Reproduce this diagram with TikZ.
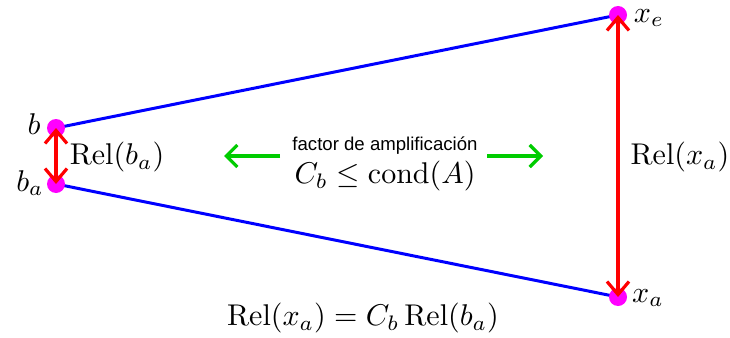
\documentclass[tikz,border=0pt]{standalone}
\usepackage{fontspec}
\usepackage{amsmath}
\usepackage{graphicx}
\newfontfamily\helv{Liberation Sans}
\usetikzlibrary{arrows.meta}
\definecolor{mag}{RGB}{255,0,255}
\definecolor{gr}{RGB}{0,204,0}
\definecolor{bl}{RGB}{0,0,255}
\definecolor{rd}{RGB}{255,0,0}
\newcommand{\szm}[1]{\scalebox{3.0}{$#1$}}
\begin{document}
\begin{tikzpicture}[x=1pt,y=-1pt,
  dot/.style={circle,fill=mag,inner sep=0pt,minimum size=18pt},
  blueline/.style={draw=bl,line width=3pt},
  redarrow/.style={draw=rd,line width=3.2pt,{Straight Barb[length=13pt,width=22pt]}-{Straight Barb[length=13pt,width=22pt]}},
  greenarrow/.style={draw=gr,line width=3.2pt,-{Straight Barb[length=11pt,width=22pt]}},
  lbl/.style={inner sep=0pt}
]
\useasboundingbox (0,0) rectangle (730,337);
\coordinate (cb) at (56,128);
\coordinate (cba) at (56,184);
\coordinate (cxe) at (618,15);
\coordinate (cxa) at (618,297);
\draw[blueline] (cb) -- (cxe);
\draw[blueline] (cba) -- (cxa);
\node[dot] (b) at (cb) {};
\node[dot] (ba) at (cba) {};
\node[dot] (xe) at (cxe) {};
\node[dot] (xa) at (cxa) {};
\draw[redarrow] (b.center) -- (ba.center);
\draw[redarrow] (xa.center) -- (xe.center);
\node[lbl] (lb) at (34,124) {\szm{b}};
\node[lbl] (lba) at (30,183) {\szm{b_a}};
\node[lbl] (lxe) at (649,18) {\szm{x_e}};
\node[lbl] (lxa) at (648,298) {\szm{x_a}};
\node[lbl] (relb) at (117,157) {\szm{\mathrm{Rel}(b_a)}};
\node[lbl] (relx) at (680,157) {\szm{\mathrm{Rel}(x_a)}};
\node[inner sep=0pt,font=\helv\fontsize{18.6}{21}\selectfont] (fac) at (385,146) {factor de amplificación};
\node[lbl] (cond) at (385,176) {\szm{C_b \le \operatorname{cond}(A)}};
\coordinate (gl1) at (280,156);
\coordinate (gl2) at (224,156);
\coordinate (gr1) at (487,156);
\coordinate (gr2) at (543,156);
\draw[greenarrow] (gl1) -- (gl2);
\draw[greenarrow] (gr1) -- (gr2);
\node[lbl] (eq) at (363,318) {\szm{\mathrm{Rel}(x_a) = C_b\,\mathrm{Rel}(b_a)}};
\end{tikzpicture}
\end{document}
